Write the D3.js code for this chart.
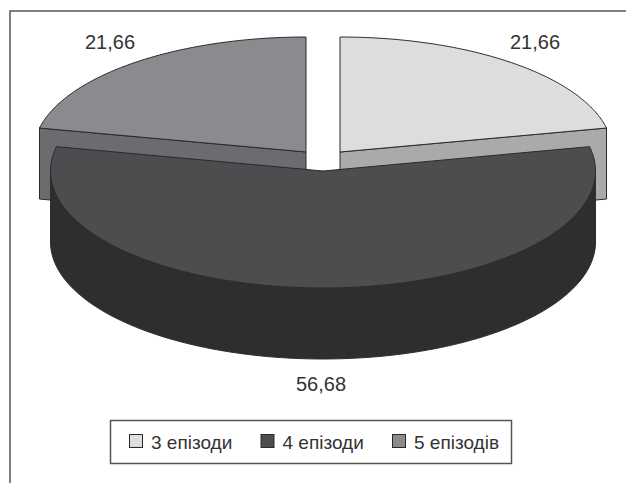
<!DOCTYPE html>
<html><head><meta charset="utf-8">
<script src="https://d3js.org/d3.v7.min.js"></script>
<style>html,body{margin:0;padding:0;background:#fff}svg{display:block}text{font-family:"Liberation Sans",Arial,sans-serif;fill:#333}</style>
</head><body><svg id="c" width="626" height="483"></svg>
<script>
const categories = ["3 епізоди","4 епізоди","5 епізодів"];
const values = [21.66,56.68,21.66];
const valueLabels = ["21,66","56,68","21,66"];
const topColors = ["#dcddde","#4c4d4f","#8a8b8e"];
const cutColors = ["#a9aaac","#2f2d2e","#6b6c70"];

const W=626,H=483;
const svg=d3.select("#c");
const stroke="#2b2a2a";
const rx=272.5, depth=71;
const radiiY=[115,117,115];
const centers=[[340,152],[323,171],[306,152]];
const arcs=d3.pie().sort(null).value(d=>d)(values);
const line=d3.line();

svg.append("path").attr("d",line([[10,H],[10,11],[W,11]])).attr("fill","none").attr("stroke","#555").attr("stroke-width",1.5);

const pt=(i,a,dy=0)=>[centers[i][0]+rx*Math.sin(a),centers[i][1]-radiiY[i]*Math.cos(a)+dy];
const sampled=(a0,a1)=>d3.range(0,121).map(k=>a0+(a1-a0)*k/120);

function sector(i){
  const a=arcs[i];
  return line([centers[i],...sampled(a.startAngle,a.endAngle).map(t=>pt(i,t))])+"Z";
}
// back slices: cut face then top
[0,2].forEach(i=>{
  const c=centers[i],a=arcs[i];
  const p=pt(i,i===0?a.endAngle:a.startAngle);
  svg.append("path").attr("d",line([c,p,[p[0],p[1]+depth],[c[0],c[1]+depth]])+"Z")
    .attr("fill",cutColors[i]).attr("stroke",stroke).attr("stroke-width",1);
  svg.append("path").attr("d",sector(i)).attr("fill",topColors[i]).attr("stroke",stroke).attr("stroke-width",1);
});
// front slice wall
{
  const i=1;
  const ts=sampled(Math.PI/2,3*Math.PI/2);
  const upper=ts.map(t=>pt(i,t));
  const lower=ts.map(t=>pt(i,t,depth)).reverse();
  svg.append("path").attr("d",line([...upper,...lower])+"Z").attr("fill",cutColors[i]).attr("stroke",cutColors[i]).attr("stroke-width",1);
  svg.append("path").attr("d",sector(i)).attr("fill",topColors[i]).attr("stroke",stroke).attr("stroke-width",1);
}
// value labels
const labelPos=[[535,49],[321,391],[110,49]];
valueLabels.forEach((t,i)=>svg.append("text").attr("x",labelPos[i][0]).attr("y",labelPos[i][1])
  .attr("text-anchor","middle").attr("font-size",20).text(t));
// legend
svg.append("rect").attr("x",110.5).attr("y",420.5).attr("width",401).attr("height",43)
  .attr("fill","#fff").attr("stroke","#555").attr("stroke-width",1.5);
const legendX=d3.scalePoint().domain(categories).range([129,392]);
categories.forEach((t,i)=>{
  const x=legendX(t);
  svg.append("rect").attr("x",x+.5).attr("y",434.5).attr("width",13).attr("height",13)
    .attr("fill",topColors[i]).attr("stroke",stroke).attr("stroke-width",1);
  svg.append("text").attr("x",x+22).attr("y",449).attr("font-size",19).text(t);
});
</script></body></html>
